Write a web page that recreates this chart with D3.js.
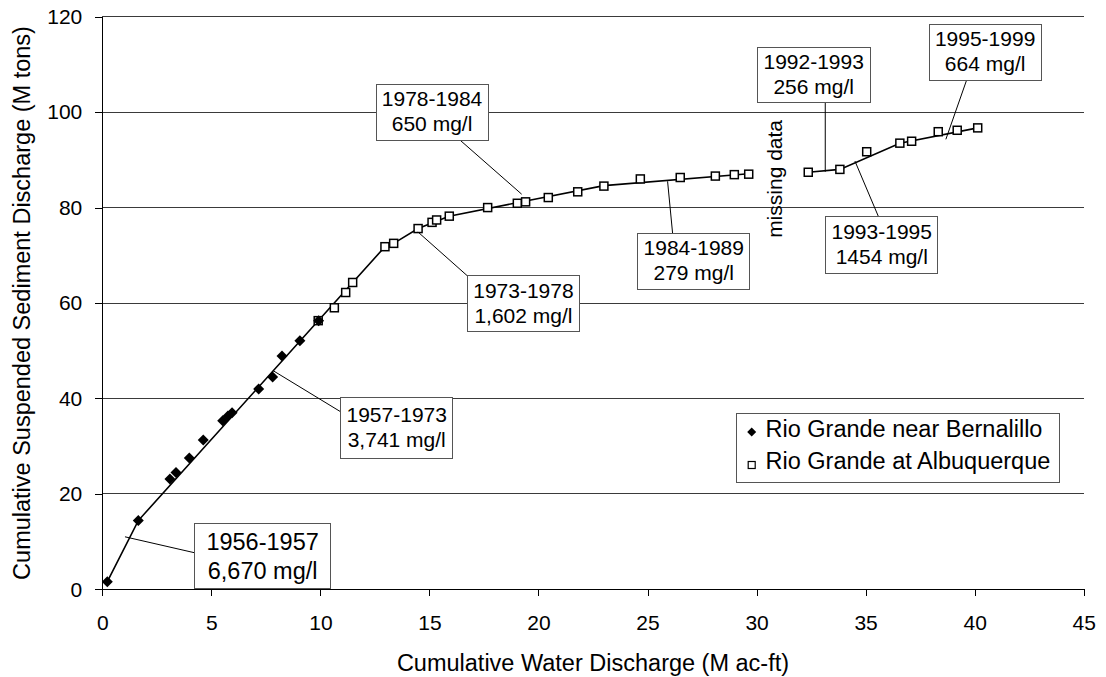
<!DOCTYPE html>
<html>
<head>
<meta charset="utf-8">
<script src="https://cdn.jsdelivr.net/npm/d3@7"></script>
<style>
  body { margin: 0; background: #fff; }
  svg text { font-family: "Liberation Sans", Arial, sans-serif; font-size: 21px; fill: #000; }
</style>
</head>
<body>
<svg id="chart"></svg>
<script>
// Rio Grande near Bernalillo (filled diamonds)
const bernX = [0.23, 1.65, 3.10, 3.38, 3.99, 4.63, 5.52, 5.76, 5.95, 7.17, 7.81, 8.24, 9.06, 9.92];
const bernY = [1.6, 14.4, 23.1, 24.5, 27.5, 31.3, 35.3, 36.3, 37.0, 42.0, 44.5, 48.9, 52.1, 56.3];

// Rio Grande at Albuquerque (open squares)
const albX = [9.90, 10.64, 11.16, 11.48, 12.96, 13.36, 14.48, 15.12, 15.33, 15.91, 17.67, 19.03, 19.41, 20.45, 21.80,
              23.00, 24.67, 26.50, 28.11, 28.98, 29.64,
              32.37, 33.82, 35.05, 36.57, 37.11, 38.33, 39.20, 40.14];
const albY = [56.3, 59.0, 62.2, 64.3, 71.8, 72.5, 75.6, 76.9, 77.4, 78.2, 80.0, 80.9, 81.2, 82.1, 83.3,
              84.5, 86.0, 86.3, 86.6, 86.9, 87.0,
              87.4, 88.0, 91.7, 93.5, 93.9, 95.9, 96.2, 96.7];

// piecewise trend line (two pieces, gap = missing data)
const trend1X = [0.23, 1.65, 12.96, 13.36, 14.48, 15.9, 23.0, 29.64];
const trend1Y = [1.6, 14.4, 71.8, 72.5, 75.6, 78.2, 84.6, 87.1];
const trend2X = [32.37, 33.82, 36.57, 40.14];
const trend2Y = [87.4, 88.0, 93.5, 96.7];

const xTicks = [0, 5, 10, 15, 20, 25, 30, 35, 40, 45];
const yTicks = [0, 20, 40, 60, 80, 100, 120];

// callouts: anchor on the line, box centre, leader tip on box (data units)
const notes = [
  { l1: "1956-1957", l2: "6,670 mg/l", at: [1.04, 11.0],  box: [7.35, 6.9],   tip: [4.22, 7.67],  w: 136, h: 65, fs: 23.5 },
  { l1: "1957-1973", l2: "3,741 mg/l", at: [7.84, 45.8],  box: [13.50, 33.8], tip: [10.93, 37.2], w: 112, h: 61, fs: 21 },
  { l1: "1973-1978", l2: "1,602 mg/l", at: [14.47, 74.9], box: [19.31, 59.8], tip: [16.75, 65.65], w: 112, h: 56, fs: 21 },
  { l1: "1978-1984", l2: "650 mg/l",   at: [19.23, 82.8], box: [15.12, 100.0], tip: [16.4, 94.15], w: 112, h: 56, fs: 21 },
  { l1: "1984-1989", l2: "279 mg/l",   at: [25.92, 85.5], box: [27.12, 68.7], tip: [26.15, 74.6], w: 112, h: 56, fs: 21 },
  { l1: "1992-1993", l2: "256 mg/l",   at: [33.15, 87.5], box: [32.62, 107.8], tip: [33.15, 102.05], w: 113, h: 55, fs: 21 },
  { l1: "1995-1999", l2: "664 mg/l",   at: [38.68, 94.3], box: [40.48, 112.6], tip: [39.63, 106.7], w: 112, h: 56, fs: 21 },
  { l1: "1993-1995", l2: "1454 mg/l",  at: [34.51, 89.75], box: [35.74, 72.2], tip: [35.58, 78.2], w: 112, h: 57, fs: 21 }
];

const width = 1106, height = 677;
const svg = d3.select("#chart").attr("width", width).attr("height", height);

const x = d3.scaleLinear().domain([0, 45]).range([102.3, 1083.7]);
const y = d3.scaleLinear().domain([0, 120]).range([589.3, 16.7]);

// gridlines
svg.append("g").selectAll("line").data(yTicks.filter(v => v > 0)).enter().append("line")
  .attr("x1", x(0)).attr("x2", x(45))
  .attr("y1", d => y(d)).attr("y2", d => y(d))
  .attr("stroke", "#3a3a3a").attr("stroke-width", 1).attr("shape-rendering", "crispEdges");

// axes
const yAxis = d3.axisLeft(y).tickValues(yTicks).tickSizeInner(7).tickSizeOuter(0).tickPadding(13);
const xAxis = d3.axisBottom(x).tickValues(xTicks).tickSizeInner(7).tickSizeOuter(0).tickPadding(19);

const gy = svg.append("g").attr("transform", `translate(${x(0)},0)`).call(yAxis);
const gx = svg.append("g").attr("transform", `translate(0,${y(0)})`).call(xAxis);
[gx, gy].forEach(g => {
  g.selectAll("path, line").attr("stroke", "#000").attr("shape-rendering", "crispEdges");
  g.selectAll("text").style("font-size", "21px").attr("fill", "#000")
    .style("font-family", '"Liberation Sans", Arial, sans-serif');
});

// axis titles
svg.append("text").attr("x", (x(0) + x(45)) / 2).attr("y", 670.5)
  .attr("text-anchor", "middle").style("font-size", "23.5px")
  .text("Cumulative Water Discharge (M ac-ft)");
svg.append("text").attr("transform", `translate(30,${(y(0) + y(120)) / 2}) rotate(-90)`)
  .attr("text-anchor", "middle").style("font-size", "23.5px")
  .text("Cumulative Suspended Sediment Discharge (M tons)");

// trend line
const line = d3.line().x(d => x(d[0])).y(d => y(d[1]));
[[trend1X, trend1Y], [trend2X, trend2Y]].forEach(([tx, ty]) => {
  svg.append("path").datum(tx.map((v, i) => [v, ty[i]]))
    .attr("d", line).attr("fill", "none").attr("stroke", "#000").attr("stroke-width", 1.6);
});

// markers
const alb = albX.map((v, i) => [v, albY[i]]);
const bern = bernX.map((v, i) => [v, bernY[i]]);
svg.append("g").selectAll("rect").data(alb).enter().append("rect")
  .attr("x", d => x(d[0]) - 4).attr("y", d => y(d[1]) - 4)
  .attr("width", 8).attr("height", 8)
  .attr("fill", "#fff").attr("stroke", "#000").attr("stroke-width", 1.5);
const diamond = r => `M0,${-r}L${r},0L0,${r}L${-r},0Z`;
svg.append("g").selectAll("path").data(bern).enter().append("path")
  .attr("transform", d => `translate(${x(d[0])},${y(d[1])})`)
  .attr("d", diamond(5.5)).attr("fill", "#000");

// "missing data"
svg.append("text").attr("transform", `translate(${x(30.84) + 7},${y(86)}) rotate(-90)`)
  .attr("text-anchor", "middle").text("missing data");

// callouts
const cg = svg.append("g");
notes.forEach(n => {
  cg.append("line")
    .attr("x1", x(n.at[0])).attr("y1", y(n.at[1]))
    .attr("x2", x(n.tip[0])).attr("y2", y(n.tip[1]))
    .attr("stroke", "#000").attr("stroke-width", 1);
});
notes.forEach(n => {
  const cx = x(n.box[0]), cy = y(n.box[1]);
  const big = n.fs > 22;
  cg.append("rect")
    .attr("x", cx - n.w / 2).attr("y", cy - n.h / 2)
    .attr("width", n.w).attr("height", n.h)
    .attr("fill", "#fff").attr("stroke", "#555").attr("stroke-width", 1)
    .attr("shape-rendering", "crispEdges");
  cg.append("text").attr("x", cx).attr("y", cy + (big ? -6 : -6)).attr("text-anchor", "middle")
    .style("font-size", n.fs + "px").text(n.l1);
  cg.append("text").attr("x", cx).attr("y", cy + (big ? 22.5 : 19)).attr("text-anchor", "middle")
    .style("font-size", n.fs + "px").text(n.l2);
});

// legend
const lg = svg.append("g");
lg.append("rect").attr("x", 736.5).attr("y", 413.5).attr("width", 323).attr("height", 69)
  .attr("fill", "#fff").attr("stroke", "#555").attr("stroke-width", 1);
lg.append("path").attr("transform", "translate(751.7,432)").attr("d", diamond(4.5)).attr("fill", "#000");
lg.append("text").attr("x", 765.5).attr("y", 437.3).style("font-size", "23.5px").text("Rio Grande near Bernalillo");
lg.append("rect").attr("x", 748.2).attr("y", 461.5).attr("width", 7).attr("height", 7)
  .attr("fill", "#fff").attr("stroke", "#000").attr("stroke-width", 1.2);
lg.append("text").attr("x", 765.5).attr("y", 469.3).style("font-size", "23.5px").text("Rio Grande at Albuquerque");
</script>
</body>
</html>
